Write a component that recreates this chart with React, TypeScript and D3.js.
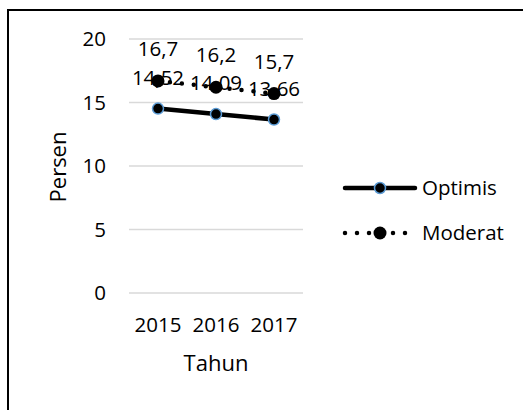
import React from "react";
import * as d3 from "d3";

const years = ["2015", "2016", "2017"];
const optimis = [14.52, 14.09, 13.66];
const moderat = [16.7, 16.2, 15.7];
const optimisLabels = ["14,52", "14,09", "13,66"];
const moderatLabels = ["16,7", "16,2", "15,7"];
const yTicks = [0, 5, 10, 15, 20];

const FONT = "'Open Sans', sans-serif";
const FS = 20.5;

export default function App() {
  const W = 523, H = 410;
  const x = d3.scaleBand<string>().domain(years).range([129, 303]);
  const y = d3.scaleLinear().domain([0, 20]).range([293, 39]);
  const cx = (d: string) => (x(d) as number) + x.bandwidth() / 2;
  const line = d3.line<number>().x((_, i) => cx(years[i])).y((v) => y(v));

  return (
    <svg width={W} height={H} style={{ position: "absolute", left: 0, top: 0 }}>
      <rect x={0} y={0} width={W} height={H} fill="#fff" />
      <rect x={8} y={10} width={W + 10} height={H + 10} fill="none" stroke="#000" strokeWidth={2} />
      {yTicks.map((t) => (
        <g key={t}>
          <line x1={129} x2={303} y1={y(t)} y2={y(t)} stroke="#d9d9d9" strokeWidth={1.5} />
          <text x={106} y={y(t)} dy="0.35em" textAnchor="end" fontFamily={FONT} fontSize={FS} fill="#000">{t}</text>
        </g>
      ))}
      {years.map((yr) => (
        <text key={yr} x={cx(yr)} y={325} dy="0.35em" textAnchor="middle" fontFamily={FONT} fontSize={FS} fill="#000">{yr}</text>
      ))}
      <text x={216} y={363} dy="0.35em" textAnchor="middle" fontFamily={FONT} fontSize={22} fill="#000">Tahun</text>
      <text transform="translate(58,167) rotate(-90)" dy="0.35em" textAnchor="middle" fontFamily={FONT} fontSize={22} fill="#000">Persen</text>

      <path d={line(optimis) as string} fill="none" stroke="#000" strokeWidth={4.5} strokeLinecap="round" />
      <path d={line(moderat) as string} fill="none" stroke="#000" strokeWidth={4.5} strokeDasharray="0 12" strokeLinecap="round" />
      {optimis.map((v, i) => (
        <circle key={"o" + i} cx={cx(years[i])} cy={y(v)} r={5.5} fill="#000" stroke="#5b9bd5" strokeWidth={1.5} />
      ))}
      {moderat.map((v, i) => (
        <circle key={"m" + i} cx={cx(years[i])} cy={y(v)} r={6.5} fill="#000" />
      ))}
      {moderat.map((v, i) => (
        <text key={"ml" + i} x={cx(years[i])} y={y(v) - 32} dy="0.35em" textAnchor="middle" fontFamily={FONT} fontSize={FS} fill="#000">{moderatLabels[i]}</text>
      ))}
      {optimis.map((v, i) => (
        <text key={"ol" + i} x={cx(years[i])} y={y(v) - 31} dy="0.35em" textAnchor="middle" fontFamily={FONT} fontSize={FS} fill="#000">{optimisLabels[i]}</text>
      ))}

      <g>
        <line x1={345} x2={415} y1={188} y2={188} stroke="#000" strokeWidth={4.5} strokeLinecap="round" />
        <circle cx={380} cy={188} r={5.5} fill="#000" stroke="#5b9bd5" strokeWidth={1.5} />
        <text x={422} y={188} dy="0.35em" fontFamily={FONT} fontSize={FS} fill="#000">Optimis</text>
        <line x1={345} x2={415} y1={233} y2={233} stroke="#000" strokeWidth={4.5} strokeDasharray="0 12" strokeLinecap="round" />
        <circle cx={380} cy={233} r={6.5} fill="#000" />
        <text x={422} y={233} dy="0.35em" fontFamily={FONT} fontSize={FS} fill="#000">Moderat</text>
      </g>
    </svg>
  );
}
